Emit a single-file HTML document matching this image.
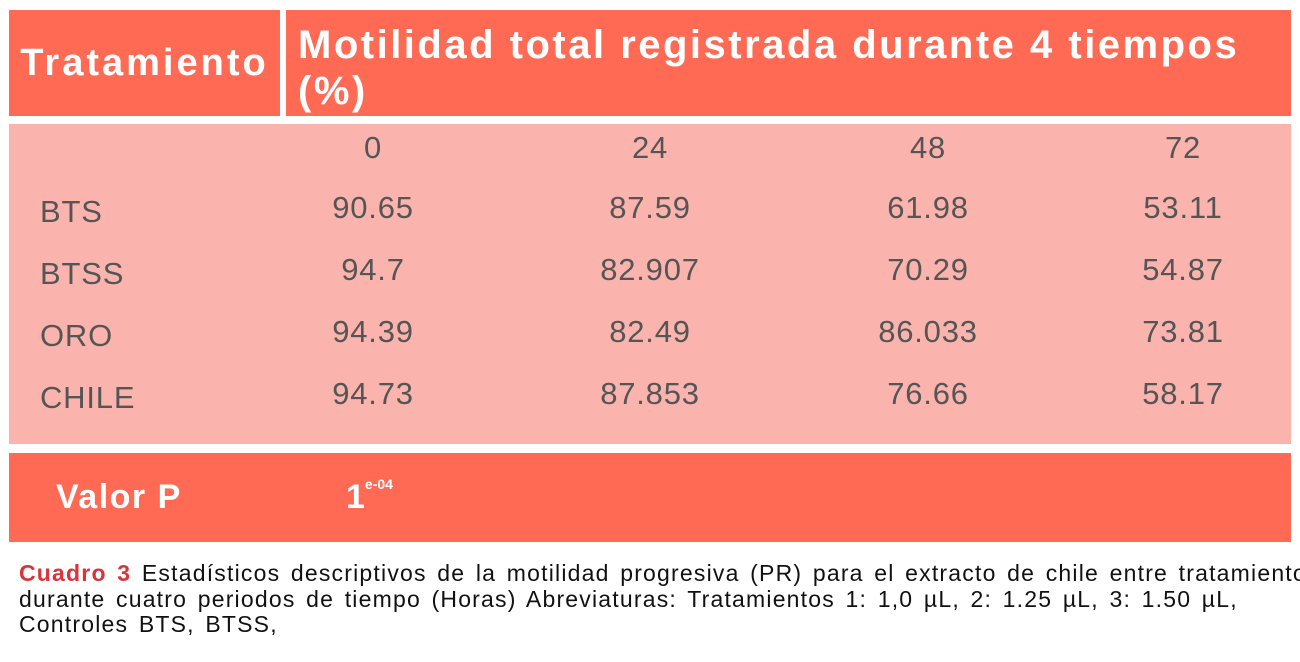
<!DOCTYPE html>
<html><head><meta charset="utf-8"><style>
body{margin:0;width:1300px;height:662px;background:#fff;position:relative;overflow:hidden;font-family:"Liberation Sans",sans-serif}
div{position:absolute}
.hd{background:#FF6A55;color:#fff;font-weight:bold}
.c{color:#555;font-size:31px;letter-spacing:0.8px;transform:translate(-50%,-50%);white-space:nowrap}
.l{color:#555;font-size:31px;letter-spacing:0.8px;left:40px;transform:translateY(-50%)}
</style></head><body>
<div class="hd" style="left:9px;top:10px;width:271px;height:106px;font-size:38px;line-height:106px;text-align:center;letter-spacing:3px">Tratamiento</div>
<div class="hd" style="left:286px;top:10px;width:1005px;height:106px;font-size:40px;line-height:46px;padding-left:12px;box-sizing:border-box;padding-top:12px;letter-spacing:2.5px;white-space:nowrap">Motilidad total registrada durante 4 tiempos<br>(%)</div>
<div style="left:9px;top:124px;width:1282px;height:320px;background:#FBB3AD"></div>
<div class="hd" style="left:9px;top:453px;width:1282px;height:89px"></div>
<div style="left:56px;top:478px;color:#fff;font-weight:bold;font-size:34px;letter-spacing:1.5px">Valor P</div>
<div style="left:346px;top:478px;color:#fff;font-weight:bold;font-size:34px">1<sup style="font-size:14px;vertical-align:top;position:relative;top:-2px">e-04</sup></div>
<div id="cells"></div>
<div style="left:19px;top:561px;width:1290px;font-size:23px;line-height:25.5px;letter-spacing:1.2px;word-spacing:3px;color:#111;white-space:nowrap"><b style="color:#D9343A">Cuadro 3</b> Estadísticos descriptivos de la motilidad progresiva (PR) para el extracto de chile entre tratamientos<br>durante cuatro periodos de tiempo (Horas) Abreviaturas: Tratamientos 1: 1,0 µL, 2: 1.25 µL, 3: 1.50 µL,<br>Controles BTS, BTSS,</div>
<script>
const times=["0","24","48","72"];
const treatments=["BTS","BTSS","ORO","CHILE"];
const bts=["90.65","87.59","61.98","53.11"];
const btss=["94.7","82.907","70.29","54.87"];
const oro=["94.39","82.49","86.033","73.81"];
const chile=["94.73","87.853","76.66","58.17"];
const rows=[bts,btss,oro,chile];
const colX=[373,650,928,1183];
const root=document.getElementById('cells');
times.forEach((t,i)=>{const d=document.createElement('div');d.className='c';


d.style.left=colX[i]+'px';d.style.top='148px';d.textContent=t;root.appendChild(d);});
treatments.forEach((n,r)=>{const y=212+r*62;const l=document.createElement('div');l.className='l';


l.style.top=y+'px';l.textContent=n;root.appendChild(l);
rows[r].forEach((v,i)=>{const d=document.createElement('div');d.className='c';


d.style.left=colX[i]+'px';d.style.top=(y-4)+'px';d.textContent=v;root.appendChild(d);});});
</script>
</body></html>
